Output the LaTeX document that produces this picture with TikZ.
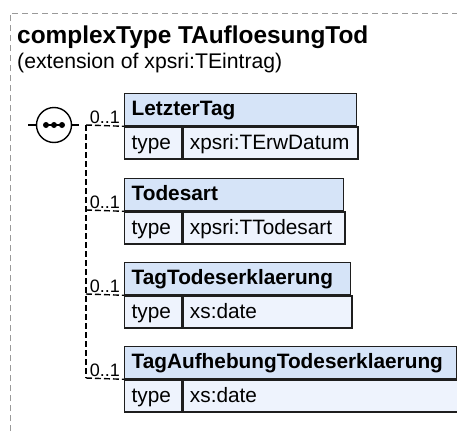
\documentclass[tikz,border=0pt]{standalone}
\usepackage{fontspec}
\setmainfont{Liberation Sans}
\definecolor{boxline}{HTML}{1E1E1E}
\definecolor{hdrfill}{HTML}{D6E4F8}
\definecolor{bodyfill}{HTML}{EEF3FD}
\definecolor{framegray}{HTML}{9A9A9A}
\newcommand{\boxfont}{\fontsize{20.8}{24}\selectfont}
\newcommand{\titlefont}{\fontsize{24.4}{28}\selectfont\bfseries}
\newcommand{\multfont}{\fontsize{18}{20}\selectfont}
\tikzset{
  hdr/.style={draw=boxline, fill=hdrfill, line width=1.3pt, anchor=north west,
    minimum height=32, inner xsep=7, inner ysep=0, text height=15, text depth=4,
    align=left, font=\boxfont\bfseries},
  cell/.style={draw=boxline, fill=bodyfill, line width=1.3pt, anchor=north west,
    minimum height=32, inner xsep=7, inner ysep=0, text height=15, text depth=2,
    align=left, font=\boxfont},
  conn/.style={draw=black, line width=1.4pt, dash pattern=on 6pt off 3pt},
  mult/.style={anchor=base east, inner sep=0, font=\multfont},
  frame/.style={draw=framegray, line width=0.9pt, dash pattern=on 6pt off 4pt},
}
\begin{document}
\begin{tikzpicture}[x=1pt,y=-1pt]
\useasboundingbox (0,0) rectangle (457,431);
\draw[frame] (10,431) -- (10,13) -- (457,13);
\node[anchor=base west, inner sep=0, font=\titlefont] (title) at (17,43) {complexType TAufloesungTod};
\node[anchor=base west, inner sep=0, font=\fontsize{21.2}{24}\selectfont] (subtitle) at (17,68) {(extension of xpsri:TEintrag)};
% sequence symbol
\coordinate (seqin) at (28,125);
\coordinate (seqout) at (79,125);
\node[circle, draw=black, fill=white, line width=1.4pt, minimum size=35, inner sep=0] (seq) at (54,125) {};
\draw[line width=1.4pt] (seqin) -- (seq.west);
\draw[line width=1.4pt] (seq.east) -- (seqout);
\draw[line width=1.4pt] (44,125) -- (64,125);
\fill (46,125) circle (3) (54,125) circle (3) (62,125) circle (3);
% boxes
\node[hdr, text width=218] (h1) at (124,93) {LetzterTag};
\node[cell, text width=43] (t1) at (h1.south west) {type};
\node[cell, text width=161] (v1) at (t1.north east) {xpsri:TErwDatum};
\node[hdr, text width=205] (h2) at (124,178) {Todesart};
\node[cell, text width=43] (t2) at (h2.south west) {type};
\node[cell, text width=148] (v2) at (t2.north east) {xpsri:TTodesart};
\node[hdr, text width=212] (h3) at (124,262) {TagTodeserklaerung};
\node[cell, text width=43] (t3) at (h3.south west) {type};
\node[cell, text width=155] (v3) at (t3.north east) {xs:date};
\node[hdr, text width=318] (h4) at (124,346) {TagAufhebungTodeserklaerung};
\node[cell, text width=43] (t4) at (h4.south west) {type};
\node[cell, text width=261] (v4) at (t4.north east) {xs:date};
% connectors
\coordinate (c1) at (86,125);
\coordinate (c2) at (86,210);
\coordinate (c3) at (86,294);
\coordinate (c4) at (86,378);
\draw[conn] (c1) -- (c4);
\draw[conn] (c1) -- (h1.south west);
\draw[conn] (c2) -- (h2.south west);
\draw[conn] (c3) -- (h3.south west);
\draw[conn] (c4) -- (h4.south west);
\node[mult] (m1) at (120,123) {0..1};
\node[mult] (m2) at (120,208) {0..1};
\node[mult] (m3) at (120,292) {0..1};
\node[mult] (m4) at (120,376) {0..1};
\end{tikzpicture}
\end{document}
